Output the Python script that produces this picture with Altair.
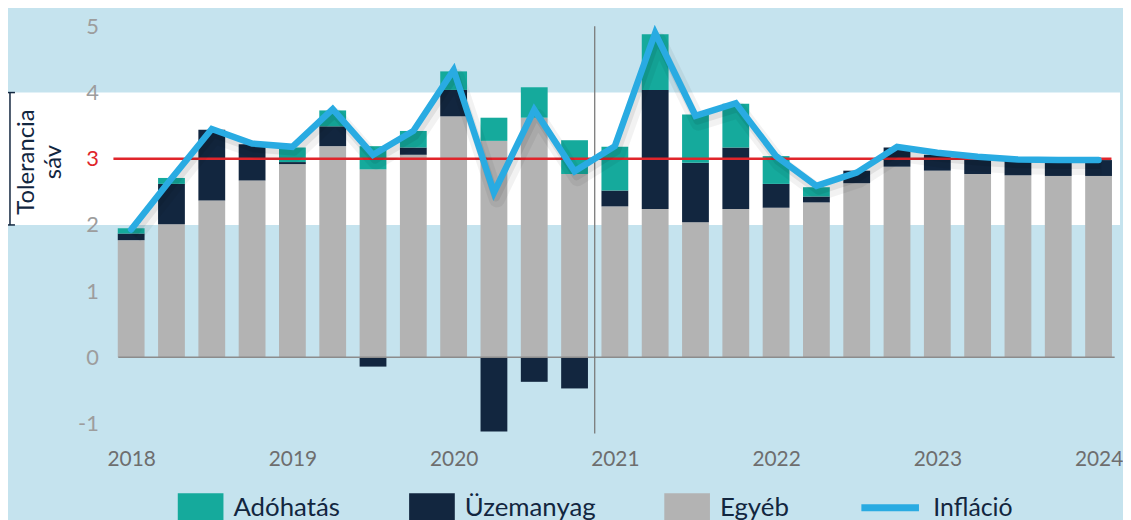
import altair as alt
import pandas as pd

quarters = ["2018Q1", "2018Q2", "2018Q3", "2018Q4",
            "2019Q1", "2019Q2", "2019Q3", "2019Q4",
            "2020Q1", "2020Q2", "2020Q3", "2020Q4",
            "2021Q1", "2021Q2", "2021Q3", "2021Q4",
            "2022Q1", "2022Q2", "2022Q3", "2022Q4",
            "2023Q1", "2023Q2", "2023Q3", "2023Q4",
            "2024Q1"]
egyeb = [1.77, 2.01, 2.37, 2.67, 2.92, 3.19, 2.84, 3.06, 3.64, 3.27, 3.62, 2.77,
         2.28, 2.24, 2.04, 2.24, 2.26, 2.34, 2.63, 2.88, 2.82, 2.77, 2.75, 2.74, 2.74]
uzemanyag = [0.10, 0.61, 1.07, 0.55, 0.03, 0.30, -0.14, 0.11, 0.40, -1.12, -0.37, -0.47,
             0.24, 1.80, 0.90, 0.93, 0.36, 0.09, 0.19, 0.29, 0.24, 0.22, 0.22, 0.22, 0.24]
adohatas = [0.08, 0.09, 0.0, 0.0, 0.22, 0.24, 0.35, 0.25, 0.28, 0.35, 0.46, 0.51,
            0.66, 0.84, 0.73, 0.66, 0.42, 0.14, 0.0, 0.0, 0.0, 0.0, 0.0, 0.0, 0.0]
inflacio = [1.93, 2.70, 3.45, 3.23, 3.18, 3.75, 3.06, 3.42, 4.34, 2.49, 3.74, 2.81,
            3.19, 4.90, 3.65, 3.84, 3.04, 2.59, 2.79, 3.18, 3.09, 3.03, 2.99, 2.98, 2.98]
components = ["Adóhatás", "Üzemanyag", "Egyéb"]
year_ticks = [2018, 2019, 2020, 2021, 2022, 2023, 2024]
y_ticks = [-1, 0, 1, 2, 3, 4, 5]
band_label = ["Tolerancia", "sáv"]

BG = "#c5e3ee"
TEAL = "#15aa9c"
NAVY = "#12263f"
GRAY = "#b3b3b3"
BLUE = "#29abe2"
RED = "#e0252b"
FONT = "Lato"


def qpos(q):
    return int(q[:4]) + (int(q[5]) - 1) / 4


rows = []
for i, q in enumerate(quarters):
    for name, vals, rank in [("Egyéb", egyeb, 0), ("Üzemanyag", uzemanyag, 1), ("Adóhatás", adohatas, 2)]:
        rows.append({"t": qpos(q), "komponens": name, "ertek": vals[i], "rend": rank})
bars_df = pd.DataFrame(rows)
line_df = pd.DataFrame({"t": [qpos(q) for q in quarters], "infl": inflacio, "nev": "Infláció"})

W, H = 1018, 430
xscale = alt.Scale(domain=[2017.895, 2017.895 + W / 164], nice=False, zero=False)
yscale = alt.Scale(domain=[-1.2, 5.25], nice=False, zero=False)

x_axis = alt.Axis(values=year_ticks, format="d", title=None, ticks=False, domain=False, grid=False,
                  labelFont=FONT, labelFontSize=21, labelColor="#6e6e6e", labelPadding=12,
                  labelFlush=False, labelOverlap=False, zindex=1)
y_axis = alt.Axis(values=y_ticks, title=None, ticks=False, domain=False, grid=False,
                  labelExpr="'' + datum.value",
                  labelFont=FONT, labelFontSize=22, labelPadding=11,
                  labelColor=alt.ExprRef(expr=f"datum.value == 3 ? '{RED}' : '#9d9d9d'"), zindex=1)

band = alt.Chart(pd.DataFrame({"lo": [2], "hi": [4]})).mark_rect(color="white").encode(
    x=alt.value(-102), x2=alt.value(W),
    y=alt.Y("lo:Q", scale=yscale, axis=y_axis), y2="hi:Q")

bars = alt.Chart(bars_df).mark_bar(size=27).encode(
    x=alt.X("t:Q", scale=xscale, axis=x_axis),
    y=alt.Y("ertek:Q", stack="zero", scale=yscale),
    order=alt.Order("rend:Q"),
    fill=alt.Fill("komponens:N",
                  scale=alt.Scale(domain=components, range=[TEAL, NAVY, GRAY]),
                  legend=alt.Legend(orient="none", legendX=69, legendY=487, direction="horizontal",
                                    title=None, symbolType="square", symbolSize=2116,
                                    symbolStrokeWidth=0, labelFont=FONT, labelFontSize=26,
                                    labelColor=NAVY, labelOffset=10, columnPadding=69,
                                    labelBaseline="alphabetic", labelLimit=300)))

zero_rule = alt.Chart(pd.DataFrame({"a": [2017.92], "b": [2024.1], "y": [0]})).mark_rule(
    color="#8c8c8c", strokeWidth=1.5).encode(x="a:Q", x2="b:Q", y="y:Q")

vline = alt.Chart(pd.DataFrame({"x": [2020.875], "lo": [-1.15], "hi": [5.0]})).mark_rule(
    color="#7a7a7a", strokeWidth=1.3).encode(x="x:Q", y="lo:Q", y2="hi:Q")

red_rule = alt.Chart(pd.DataFrame({"a": [2017.89], "b": [2024.08], "y": [3]})).mark_rule(
    color=RED, strokeWidth=2.5).encode(x="a:Q", x2="b:Q", y="y:Q")

shadow1 = alt.Chart(line_df).mark_line(color="#000000", opacity=0.05, strokeWidth=16,
                                       xOffset=3, yOffset=7, strokeJoin="round").encode(
    x="t:Q", y="infl:Q")
shadow2 = alt.Chart(line_df).mark_line(color="#000000", opacity=0.07, strokeWidth=8,
                                       xOffset=2, yOffset=5, strokeJoin="round").encode(
    x="t:Q", y="infl:Q")

line = alt.Chart(line_df).mark_line(strokeWidth=6.5, strokeCap="round", strokeJoin="miter",
                                    strokeMiterLimit=4).encode(
    x="t:Q", y="infl:Q",
    stroke=alt.Stroke("nev:N", scale=alt.Scale(range=[BLUE]),
                      legend=alt.Legend(orient="none", legendX=754, legendY=469, title=None,
                                        symbolType="stroke", symbolSize=3364, symbolStrokeWidth=7,
                                        labelFont=FONT, labelFontSize=25, labelColor=NAVY,
                                        labelOffset=11)))

label = alt.Chart(pd.DataFrame({"y": [2.95]})).mark_text(
    text=band_label, angle=270, font=FONT, fontSize=24, color=NAVY, lineHeight=27,
    align="center", baseline="middle").encode(x=alt.value(-83), y="y:Q")

bracket = alt.Chart(pd.DataFrame({"lo": [2], "hi": [4]})).mark_rule(color=NAVY, strokeWidth=1.5).encode(
    x=alt.value(-100), y="lo:Q", y2="hi:Q")
tick_df = pd.DataFrame({"y": [2, 4]})
bracket_ticks = alt.Chart(tick_df).mark_rule(color=NAVY, strokeWidth=1.5).encode(
    x=alt.value(-102), x2=alt.value(-95), y="y:Q")

chart = alt.layer(band, bars, zero_rule, vline, red_rule, shadow1, shadow2, line, label,
                  bracket, bracket_ticks).resolve_scale(fill="independent", stroke="independent").properties(
    width=W, height=H, background=BG,
    autosize=alt.AutoSizeParams(type="none"),
    padding={"left": 102, "top": 0, "right": 3, "bottom": 82},
).configure_view(stroke=None)

chart.save("out.html", embed_options={"renderer": "svg", "actions": False})
